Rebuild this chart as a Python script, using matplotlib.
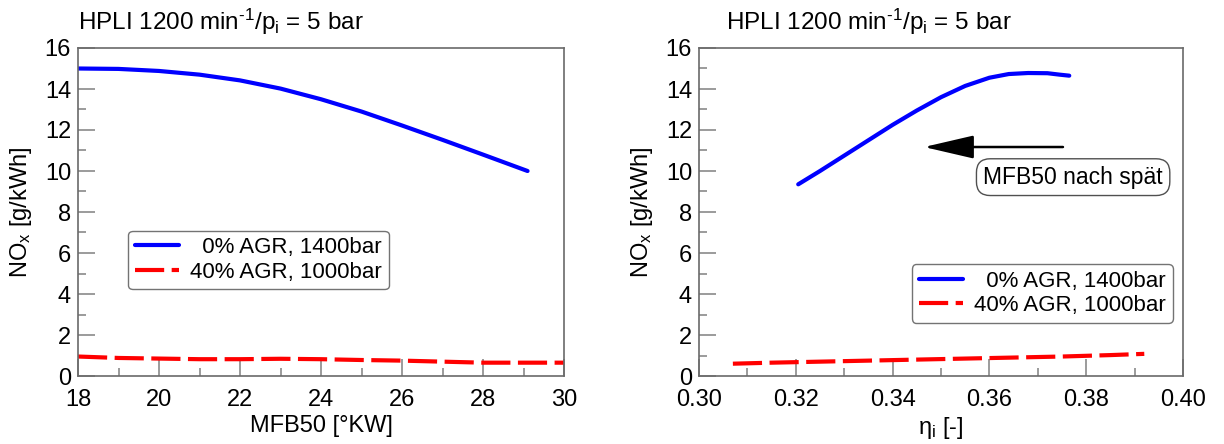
import matplotlib
matplotlib.use("Agg")
import matplotlib.pyplot as plt
from matplotlib.ticker import MultipleLocator

plt.rcParams['font.family'] = ['Liberation Sans', 'DejaVu Sans']
plt.rcParams['mathtext.fontset'] = 'custom'
plt.rcParams['mathtext.rm'] = 'Liberation Sans'
plt.rcParams['mathtext.it'] = 'Liberation Sans'
plt.rcParams['mathtext.default'] = 'regular'

# Left panel data: NOx vs MFB50
mfb_blue = [18, 19, 20, 21, 22, 23, 24, 25, 26, 27, 28, 29.1]
nox_blue_l = [15.0, 14.98, 14.88, 14.7, 14.42, 14.02, 13.5, 12.9, 12.22, 11.52, 10.8, 10.0]
mfb_red = [18, 19, 20, 21, 22, 23, 24, 25, 26, 27, 28, 29, 30]
nox_red_l = [0.95, 0.88, 0.85, 0.82, 0.82, 0.84, 0.82, 0.78, 0.75, 0.70, 0.65, 0.65, 0.65]

# Right panel data: NOx vs eta_i
eta_blue = [0.3205, 0.325, 0.33, 0.335, 0.34, 0.345, 0.35, 0.355, 0.36, 0.364, 0.368, 0.372, 0.3745, 0.3765]
nox_blue_r = [9.35, 10.0, 10.75, 11.5, 12.25, 12.95, 13.6, 14.15, 14.55, 14.73, 14.78, 14.77, 14.7, 14.65]
eta_red = [0.307, 0.315, 0.325, 0.335, 0.345, 0.355, 0.365, 0.375, 0.385, 0.392]
nox_red_r = [0.6, 0.65, 0.7, 0.75, 0.8, 0.85, 0.9, 0.95, 1.02, 1.08]

labels = ['0% AGR, 1400bar', '40% AGR, 1000bar']
title = r'HPLI 1200 min$^{\text{-}1}$/p$_i$ = 5 bar'

fig = plt.figure(figsize=(12.24, 4.44), dpi=100)
ax1 = fig.add_axes([78/1224, 1-376/444, (564-78)/1224, (376-48)/444])
ax2 = fig.add_axes([699/1224, 1-376/444, (1183-699)/1224, (376-48)/444])

spine_c = '#6a6a6a'
fs = 17

def style(ax, xmaj, xmin):
    for s in ['top', 'right', 'left', 'bottom']:
        ax.spines[s].set_color(spine_c)
        ax.spines[s].set_linewidth(1.2)
    ax.set_ylim(0, 16)
    ax.yaxis.set_major_locator(MultipleLocator(2))
    ax.yaxis.set_minor_locator(MultipleLocator(1))
    ax.xaxis.set_major_locator(MultipleLocator(xmaj))
    ax.xaxis.set_minor_locator(MultipleLocator(xmin))
    ax.tick_params(which='both', direction='in', top=False, right=False,
                   color='#8a8a8a', labelsize=fs, width=1.2)
    ax.tick_params(axis='y', which='major', length=12, pad=5)
    ax.tick_params(axis='y', which='minor', length=6)
    ax.tick_params(axis='x', which='major', length=12, pad=9)
    ax.tick_params(axis='x', which='minor', length=6)
    ax.set_ylabel('NO$_x$ [g/kWh]', fontsize=fs, labelpad=8)

legkw = dict(fontsize=16, frameon=True, fancybox=True, handlelength=2.0,
             borderpad=0.3, labelspacing=0.15, handletextpad=0.5, borderaxespad=0)
leglabels = ['  ' + labels[0], labels[1]]

# Left
l1, = ax1.plot(mfb_blue, nox_blue_l, color='#0000ff', lw=3, solid_capstyle='round')
l2, = ax1.plot(mfb_red, nox_red_l, color='#ff0000', lw=3, dashes=(7, 1.8))
ax1.set_xlim(18, 30)
style(ax1, 2, 1)
ax1.set_xlabel('MFB50 [°KW]', fontsize=fs, labelpad=3)
ax1.text(0.0, 1.035, title, transform=ax1.transAxes, fontsize=17.5, ha='left', va='bottom')
leg1 = ax1.legend([l1, l2], leglabels, loc='center left', bbox_to_anchor=(0.103, 0.354), **legkw)
leg1.get_frame().set_edgecolor('#505050')
leg1.get_frame().set_linewidth(1.0)

# Right
r1, = ax2.plot(eta_blue, nox_blue_r, color='#0000ff', lw=3, solid_capstyle='round')
r2, = ax2.plot(eta_red, nox_red_r, color='#ff0000', lw=3, dashes=(7, 1.8))
ax2.set_xlim(0.30, 0.40)
style(ax2, 0.02, 0.01)
ax2.xaxis.set_major_formatter(plt.FormatStrFormatter('%.2f'))
ax2.set_xlabel(r'$\eta_i$ [-]', fontsize=fs, labelpad=3)
ax2.text(0.055, 1.035, title, transform=ax2.transAxes, fontsize=17.5, ha='left', va='bottom')
leg2 = ax2.legend([r1, r2], leglabels, loc='center left', bbox_to_anchor=(0.44, 0.2515), **legkw)
leg2.get_frame().set_edgecolor('#505050')
leg2.get_frame().set_linewidth(1.0)

ax2.annotate('', xy=(0.3465, 11.17), xytext=(0.3752, 11.17),
             arrowprops=dict(arrowstyle='-|>,head_length=3.1,head_width=0.72',
                             color='black', lw=1.8, shrinkA=0, shrinkB=0))
ax2.text(0.3773, 9.7, 'MFB50 nach spät', fontsize=16.5, ha='center', va='center',
         bbox=dict(boxstyle='round,pad=0.3,rounding_size=0.6', fc='white', ec='#505050', lw=1.0))

fig.savefig('out.png', dpi=100)
